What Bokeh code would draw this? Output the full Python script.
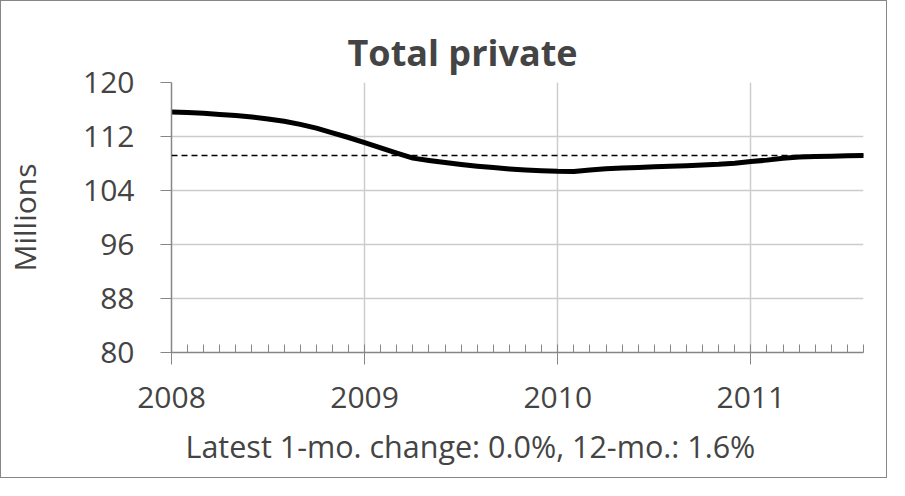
from bokeh.plotting import figure
from bokeh.models import Range1d, FixedTicker, Span, Title
from bokeh.embed import file_html
from bokeh.resources import INLINE

# ---- data ----
months = list(range(44))  # Jan 2008 .. Aug 2011
employment = [
    115.62, 115.55, 115.45, 115.25, 115.10, 114.90, 114.60, 114.25, 113.80, 113.25, 112.55, 111.85,
    111.10, 110.30, 109.55, 108.80, 108.45, 108.15, 107.85, 107.60, 107.40, 107.20, 107.05, 106.93,
    106.85, 106.83, 107.05, 107.22, 107.32, 107.42, 107.52, 107.60, 107.68, 107.77, 107.88, 108.05,
    108.30, 108.50, 108.78, 108.95, 109.02, 109.08, 109.15, 109.20,
]
year_ticks = [0, 12, 24, 36]
year_labels = ["2008", "2009", "2010", "2011"]
y_ticks = [80, 88, 96, 104, 112, 120]
title_text = "Total private"
y_label = "Millions"
footer_text = "Latest 1-mo. change: 0.0%, 12-mo.: 1.6%"
latest_level = employment[-1]

FONT = "Open Sans"
AXIS_GRAY = "#868686"
GRID_GRAY = "#cccccc"

p = figure(width=887, height=478, output_backend="svg", toolbar_location=None,
           x_range=Range1d(months[0], months[-1]), y_range=Range1d(80, 120),
           min_border_left=165, min_border_right=25, min_border_top=81, min_border_bottom=127)
p.styles = {"border": "1px solid #868686"}
p.outline_line_color = None
p.background_fill_color = "white"
p.border_fill_color = "white"

# title
p.title.text = title_text
p.title.align = "left"
p.title.text_font = FONT
p.title.text_font_style = "bold"
p.title.text_font_size = "36px"
p.title.offset = 176
p.title.standoff = 12

# footer
p.add_layout(Title(text=footer_text, align="left", text_font=FONT,
                   text_font_style="normal", text_font_size="30.5px",
                   offset=14, standoff=24), "below")

# x axis
xa = p.xaxis[0]
xa.ticker = FixedTicker(ticks=year_ticks, minor_ticks=months)
xa.major_label_overrides = {t: l for t, l in zip(year_ticks, year_labels)}
xa.major_tick_out = 12
xa.major_tick_in = 0
xa.minor_tick_in = 8
xa.minor_tick_out = 0
xa.axis_line_color = AXIS_GRAY
xa.major_tick_line_color = AXIS_GRAY
xa.minor_tick_line_color = AXIS_GRAY
xa.axis_line_width = 1.5
xa.major_label_text_font = FONT
xa.major_label_text_font_size = "30px"
xa.major_label_standoff = 22

# y axis
ya = p.yaxis[0]
ya.ticker = FixedTicker(ticks=y_ticks)
ya.major_tick_out = 11
ya.major_tick_in = 0
ya.minor_tick_line_color = None
ya.axis_line_color = AXIS_GRAY
ya.major_tick_line_color = AXIS_GRAY
ya.axis_line_width = 1.5
ya.major_label_text_font = FONT
ya.major_label_text_font_size = "30px"
ya.major_label_standoff = 26
ya.axis_label = y_label
ya.axis_label_text_font = FONT
ya.axis_label_text_font_style = "normal"
ya.axis_label_text_font_size = "30px"
ya.axis_label_standoff = 35

# grids
p.xgrid.ticker = FixedTicker(ticks=year_ticks)
p.ygrid.ticker = FixedTicker(ticks=y_ticks)
p.xgrid.grid_line_color = GRID_GRAY
p.ygrid.grid_line_color = GRID_GRAY
p.xgrid.grid_line_width = 1.5
p.ygrid.grid_line_width = 1.5

# reference dashed level
p.add_layout(Span(location=latest_level, dimension="width", line_color="black",
                  line_width=1.5, line_dash="6 4"))

# series
p.line(months, employment, line_width=5, line_color="black", line_join="round", line_cap="round")

open("out.html", "w").write(file_html(p, INLINE))
